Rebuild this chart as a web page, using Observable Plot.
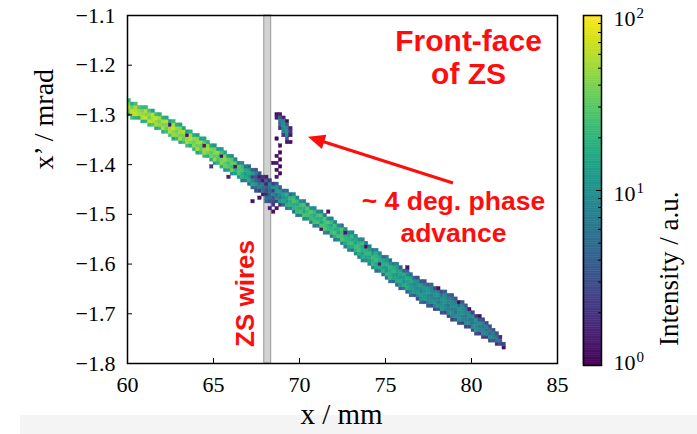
<!DOCTYPE html>
<html><head><meta charset="utf-8">
<script src="https://cdn.jsdelivr.net/npm/d3@7"></script>
<script src="https://cdn.jsdelivr.net/npm/@observablehq/plot@0.6"></script>
<style>
body{margin:0;background:#fff;}
#wrap{position:relative;width:697px;height:434px;overflow:hidden;background:#fff;}
#strip{position:absolute;left:20px;top:415px;width:677px;height:19px;background:#f4f4f4;}
#main{position:absolute;left:0;top:0;}
#cbar{position:absolute;left:560px;top:0;}
</style></head><body>
<div id="wrap"><div id="strip"></div><div id="main"></div><div id="cbar"></div></div>
<script>
// ---- axes ----
const xTicks = [60, 65, 70, 75, 80, 85];
const yTicks = [-1.8, -1.7, -1.6, -1.5, -1.4, -1.3, -1.2, -1.1];

// ---- main diagonal band of the 2D histogram (read per mm) ----
const bandX      = [60, 61, 62, 63, 64, 65, 66, 67, 68, 69, 70, 71, 72, 73, 74, 75, 76, 77, 78, 79, 80, 81, 82];
const bandCenter = [-1.285, -1.301, -1.318, -1.337, -1.356, -1.377, -1.399, -1.421, -1.443, -1.465, -1.486, -1.508,
                    -1.531, -1.555, -1.580, -1.606, -1.630, -1.653, -1.670, -1.690, -1.712, -1.738, -1.766];
const bandHalf   = [0.013, 0.014, 0.014, 0.015, 0.015, 0.015, 0.016, 0.016, 0.018, 0.017, 0.016, 0.016,
                    0.016, 0.017, 0.018, 0.019, 0.020, 0.021, 0.022, 0.021, 0.019, 0.013, 0.004];
const bandLevel  = [50, 55, 50, 48, 45, 40, 32, 15, 4, 12, 22, 22, 22, 20, 18, 16, 14, 10, 9, 8, 8, 7, 5];
const mottle     = [1.0, 0.8, 1.25, 0.9, 1.1, 0.7, 1.3, 0.95, 0.85, 1.15, 0.75, 1.2, 1.05];

// dark blob where the band crosses the ZS wires  [x, x', intensity]
const blobCells = [
  [67.5,-1.430,4],[67.7,-1.430,3],[67.7,-1.437,5],[67.9,-1.437,6],[67.9,-1.444,5],[68.1,-1.444,4],
  [68.1,-1.451,3],[68.3,-1.451,5],[68.3,-1.458,4],[68.1,-1.465,6],[68.3,-1.465,5],[68.5,-1.465,3],
  [68.1,-1.472,4],[68.3,-1.472,3],[68.5,-1.479,2],[68.3,-1.486,1.5],[68.5,-1.493,1.2],[67.3,-1.472,1.2],
  [67.9,-1.458,1.3],[67.7,-1.423,1.4],[68.7,-1.472,2.5],[68.7,-1.458,5],[67.5,-1.451,3],
  [67.3,-1.423,2.5],[67.5,-1.423,3],[67.9,-1.430,1.3],[68.1,-1.437,1.5],[68.5,-1.451,2],
  [68.7,-1.486,1.3],[68.9,-1.479,2],[67.7,-1.465,1.2],[68.9,-1.465,6]
];
// small cluster beyond the wires (front face of ZS)
const clusterCells = [
  [68.7,-1.300,1.2],[68.7,-1.307,1.5],
  [68.9,-1.300,1.3],[68.9,-1.307,4],[68.9,-1.314,6],[68.9,-1.321,5],[68.9,-1.328,2],
  [69.1,-1.307,1.5],[69.1,-1.314,8],[69.1,-1.321,10],[69.1,-1.328,9],[69.1,-1.335,7],[69.1,-1.342,2],
  [69.3,-1.314,1.2],[69.3,-1.321,4],[69.3,-1.328,8],[69.3,-1.335,10],[69.3,-1.342,9],[69.3,-1.349,4],[69.3,-1.356,1.3],
  [69.5,-1.328,1.5],[69.5,-1.335,2],[69.5,-1.342,1.3],[69.5,-1.356,1.2],[68.7,-1.349,1.1],
  [68.9,-1.363,1.2],[68.9,-1.377,1.1],[68.7,-1.384,1.3],[68.9,-1.391,1.1],[68.5,-1.398,1.2],
  [68.7,-1.398,1.4],[68.9,-1.405,1.1],[68.7,-1.412,1.2],[68.9,-1.419,1.1],[68.7,-1.426,1.3]
];
// isolated low-count pixels along the band edges
const speckles = [
  [62.4,-1.318,1.3],[63.4,-1.339,1.2],[64.4,-1.362,1.4],[65.4,-1.383,1.2],[66.3,-1.404,1.3],
  [64.9,-1.406,2],[65.9,-1.424,1.5],[71.6,-1.494,1.3],[71.3,-1.530,1.2],[72.7,-1.540,1.3],
  [73.9,-1.563,1.2],[74.6,-1.600,1.4],[76.2,-1.610,1.3],[78.1,-1.652,1.2],[79.3,-1.675,1.1],
  [79.9,-1.692,1.3],[80.4,-1.707,1.2],[81.9,-1.768,1.2]
];

// ---- annotations ----
const wire = {x1: 67.95, x2: 68.35};
const arrowSpec = {x1: 78.95, y1: -1.438, x2: 70.52, y2: -1.345};
const red = "#ff0d0d";

// ---- colour bar ----
const cbMinor = [2,3,4,5,6,7,8,9,20,30,40,50,60,70,80,90];
const cbMajor = [1, 10, 100];
const cbLabels = [{v: 1, e: "0"}, {v: 10, e: "1"}, {v: 100, e: "2"}];

// ---- build histogram cells ----
const binW = 0.2, binH = 0.007;
const cellMap = new Map();
const key = (i, j) => i + "," + j;
for (let i = 0; ; i++) {
  const xc = 60 + (i + 0.5) * binW;
  if (xc > 82) break;
  const k = Math.min(Math.floor(xc - 60), bandX.length - 2);
  const t = (xc - bandX[k]) / (bandX[k + 1] - bandX[k]);
  const c = bandCenter[k] + t * (bandCenter[k + 1] - bandCenter[k]);
  const h = bandHalf[k] + t * (bandHalf[k + 1] - bandHalf[k]);
  const L = bandLevel[k] + t * (bandLevel[k + 1] - bandLevel[k]);
  const j0 = Math.floor((c - h + 1.8) / binH), j1 = Math.floor((c + h + 1.8) / binH);
  for (let j = j0; j <= j1; j++) {
    let v = L * mottle[(i * 7 + j * 3) % mottle.length];
    if (j === j0 || j === j1) v *= 0.4;
    cellMap.set(key(i, j), v);
  }
}
for (const [x, y, v] of [...blobCells, ...clusterCells, ...speckles]) {
  const i = Math.floor((x - 60) / binW + 1e-9), j = Math.floor((y + 1.8) / binH + 1e-9);
  cellMap.set(key(i, j), v);
}
const cells = [...cellMap].map(([k, v]) => {
  const [i, j] = k.split(",").map(Number);
  return {x1: 60 + i * binW, x2: 60 + (i + 1) * binW, y1: -1.8 + j * binH, y2: -1.8 + (j + 1) * binH, v};
});

const colorSpec = {type: "log", domain: [1, 100], scheme: "viridis", clamp: true};
const baseStyle = {fontFamily: "'Liberation Serif', 'Times New Roman', serif", fontSize: "22px", background: "transparent", overflow: "visible", color: "black"};
const sans = "'Liberation Sans', Arial, sans-serif";

// filled-head arrow drawn through the plot's own x/y scales
function arrowMark(index, scales) {
  const X1 = scales.x(arrowSpec.x1), Y1 = scales.y(arrowSpec.y1);
  const X2 = scales.x(arrowSpec.x2), Y2 = scales.y(arrowSpec.y2);
  const dx = X2 - X1, dy = Y2 - Y1, L = Math.hypot(dx, dy), ux = dx / L, uy = dy / L;
  const hl = 17, hw = 7.5;
  const bx = X2 - ux * hl, by = Y2 - uy * hl;
  const g = d3.create("svg:g");
  g.append("line").attr("x1", X1).attr("y1", Y1).attr("x2", bx + ux * 3).attr("y2", by + uy * 3)
    .attr("stroke", red).attr("stroke-width", 3.2);
  g.append("polygon")
    .attr("points", [[X2, Y2], [bx - uy * hw, by + ux * hw], [bx + uy * hw, by - ux * hw]].map(p => p.join(",")).join(" "))
    .attr("fill", red);
  return g.node();
}

const main = Plot.plot({
  width: 560, height: 434,
  marginLeft: 127, marginRight: 3, marginTop: 15, marginBottom: 71,
  x: {domain: [60, 85]},
  y: {domain: [-1.8, -1.1]},
  color: colorSpec,
  style: baseStyle,
  marks: [
    Plot.rect([wire], {x1: "x1", x2: "x2", y1: -1.8, y2: -1.1, fill: "#d2d2d2", stroke: "#a6a6a6", strokeWidth: 1.2}),
    Plot.rect(cells, {x1: "x1", x2: "x2", y1: "y1", y2: "y2", fill: "v", stroke: "v", strokeWidth: 0.4}),
    Plot.axisX({ticks: xTicks, tickSize: -5, tickPadding: 18, label: null, tickFormat: d => String(d)}),
    Plot.axisY({ticks: yTicks, tickSize: -5, tickPadding: 17, label: null, tickFormat: d3.format(".1f")}),
    Plot.frame({stroke: "black", strokeWidth: 1.5}),
    Plot.text(["x / mm"], {frameAnchor: "bottom", dx: -1, dy: 60, lineAnchor: "bottom", fontSize: 29}),
    Plot.text(["x\u2019 / mrad"], {frameAnchor: "left", dx: -83, dy: -20, rotate: -90, lineAnchor: "middle", fontSize: 28}),
    Plot.text(["Front-face\nof ZS"], {x: 79.83, y: -1.1825, fill: red, fontFamily: sans, fontWeight: "bold", fontSize: 30, lineHeight: 1.1, lineAnchor: "middle"}),
    Plot.text(["~ 4 deg. phase\nadvance"], {x: 78.95, y: -1.5037, fill: red, fontFamily: sans, fontWeight: "bold", fontSize: 26.5, lineHeight: 1.2, lineAnchor: "middle"}),
    Plot.text(["ZS wires"], {x: 66.89, y: -1.6592, rotate: -90, fill: red, fontFamily: sans, fontWeight: "bold", fontSize: 26, lineAnchor: "middle"}),
    arrowMark
  ]
});
document.getElementById("main").append(main);

const cbStops = d3.range(0, 200).map(k => ({y1: Math.pow(10, k / 100), y2: Math.pow(10, (k + 1) / 100)}));
const cbar = Plot.plot({
  width: 137, height: 434,
  marginLeft: 23, marginRight: 96, marginTop: 15, marginBottom: 69,
  x: {domain: [0, 1], axis: null},
  y: {type: "log", domain: [1, 100]},
  color: colorSpec,
  style: baseStyle,
  marks: [
    Plot.rect(cbStops, {x1: 0, x2: 1, y1: "y1", y2: "y2", fill: d => Math.sqrt(d.y1 * d.y2), stroke: d => Math.sqrt(d.y1 * d.y2), strokeWidth: 0.5}),
    Plot.axisY({anchor: "right", ticks: cbMinor, tickSize: -4, tickFormat: () => "", label: null}),
    Plot.axisY({anchor: "right", ticks: cbMajor, tickSize: -6, tickFormat: () => "", label: null}),
    Plot.frame({stroke: "black", strokeWidth: 1.5}),
    Plot.text(cbLabels.filter(d => d.v > 1), {y: "v", text: () => "10", frameAnchor: "right", dx: 12, dy: 3.5, textAnchor: "start", lineAnchor: "middle", fontSize: 22}),
    Plot.text(cbLabels.filter(d => d.v > 1), {y: "v", text: "e", frameAnchor: "right", dx: 35, dy: 2.5, textAnchor: "start", lineAnchor: "bottom", fontSize: 15}),
    Plot.text(cbLabels.filter(d => d.v === 1), {y: "v", text: () => "10", frameAnchor: "right", dx: 12, dy: -2.5, textAnchor: "start", lineAnchor: "middle", fontSize: 22}),
    Plot.text(cbLabels.filter(d => d.v === 1), {y: "v", text: "e", frameAnchor: "right", dx: 35, dy: -3.5, textAnchor: "start", lineAnchor: "bottom", fontSize: 15}),
    Plot.text(["Intensity / a.u."], {frameAnchor: "right", dx: 76, dy: 1, rotate: -90, lineAnchor: "bottom", fontSize: 27})
  ]
});
document.getElementById("cbar").append(cbar);
</script></body></html>
